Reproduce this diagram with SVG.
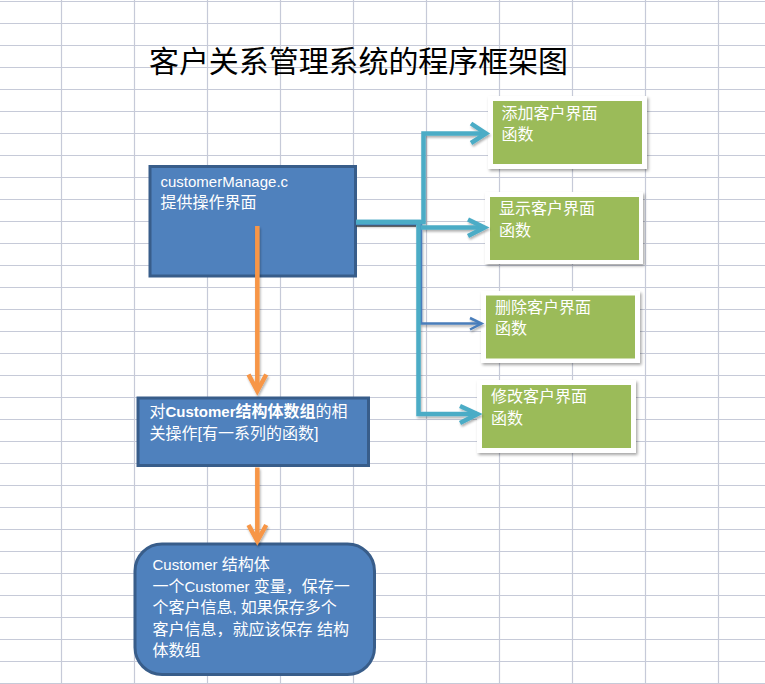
<svg xmlns="http://www.w3.org/2000/svg" width="765" height="684" viewBox="0 0 765 684">
<defs>
<style>
.grid line{stroke:#c6cad8;stroke-width:1.2}
.t{font-family:"Liberation Sans","Noto Sans CJK SC",sans-serif;font-size:16px;fill:#ffffff}
.lat{font-size:15px}
.blue{fill:#4f81bd;stroke:#385d8a;stroke-width:3}
.frame{fill:#ffffff}
.green{fill:#9bbb59}
.teal{fill:none;stroke:#4bacc6;stroke-width:4.5;stroke-linejoin:miter}
.orange{fill:none;stroke:#f79646;stroke-width:4.5}
.thin{fill:none;stroke:#4a7ebb;stroke-width:2.5}
</style>
<filter id="sh" x="-10%" y="-10%" width="130%" height="130%">
<feDropShadow dx="1.5" dy="2" stdDeviation="1.5" flood-color="#000" flood-opacity="0.35"/>
</filter>
<filter id="lsh" x="-20%" y="-20%" width="140%" height="140%">
<feDropShadow dx="1" dy="2" stdDeviation="1" flood-color="#000" flood-opacity="0.3"/>
</filter>
</defs>
<rect width="765" height="684" fill="#ffffff"/>
<g class="grid">
<line x1="61.5" y1="0" x2="61.5" y2="684"/><line x1="134.5" y1="0" x2="134.5" y2="684"/><line x1="207.5" y1="0" x2="207.5" y2="684"/><line x1="280.5" y1="0" x2="280.5" y2="684"/><line x1="353.5" y1="0" x2="353.5" y2="684"/><line x1="426.5" y1="0" x2="426.5" y2="684"/><line x1="499.5" y1="0" x2="499.5" y2="684"/><line x1="572.5" y1="0" x2="572.5" y2="684"/><line x1="645.5" y1="0" x2="645.5" y2="684"/><line x1="718.5" y1="0" x2="718.5" y2="684"/>
<line x1="0" y1="1.5" x2="765" y2="1.5"/><line x1="0" y1="23.5" x2="765" y2="23.5"/><line x1="0" y1="45.5" x2="765" y2="45.5"/><line x1="0" y1="67.5" x2="765" y2="67.5"/><line x1="0" y1="89.5" x2="765" y2="89.5"/><line x1="0" y1="111.5" x2="765" y2="111.5"/><line x1="0" y1="133.5" x2="765" y2="133.5"/><line x1="0" y1="155.5" x2="765" y2="155.5"/><line x1="0" y1="177.5" x2="765" y2="177.5"/><line x1="0" y1="199.5" x2="765" y2="199.5"/><line x1="0" y1="221.5" x2="765" y2="221.5"/><line x1="0" y1="243.5" x2="765" y2="243.5"/><line x1="0" y1="265.5" x2="765" y2="265.5"/><line x1="0" y1="287.5" x2="765" y2="287.5"/><line x1="0" y1="309.5" x2="765" y2="309.5"/><line x1="0" y1="331.5" x2="765" y2="331.5"/><line x1="0" y1="353.5" x2="765" y2="353.5"/><line x1="0" y1="375.5" x2="765" y2="375.5"/><line x1="0" y1="397.5" x2="765" y2="397.5"/><line x1="0" y1="419.5" x2="765" y2="419.5"/><line x1="0" y1="441.5" x2="765" y2="441.5"/><line x1="0" y1="463.5" x2="765" y2="463.5"/><line x1="0" y1="485.5" x2="765" y2="485.5"/><line x1="0" y1="507.5" x2="765" y2="507.5"/><line x1="0" y1="529.5" x2="765" y2="529.5"/><line x1="0" y1="551.5" x2="765" y2="551.5"/><line x1="0" y1="573.5" x2="765" y2="573.5"/><line x1="0" y1="595.5" x2="765" y2="595.5"/><line x1="0" y1="617.5" x2="765" y2="617.5"/><line x1="0" y1="639.5" x2="765" y2="639.5"/><line x1="0" y1="661.5" x2="765" y2="661.5"/><line x1="0" y1="683.5" x2="765" y2="683.5"/>
</g>
<text id="title" x="149" y="72" font-family="'Noto Sans CJK SC',sans-serif" font-size="30" fill="#000000" textLength="419" lengthAdjust="spacingAndGlyphs">客户关系管理系统的程序框架图</text>

<g id="node-manage">
<rect class="blue" x="150" y="166.5" width="205.5" height="109.5"/>
<text class="t" x="160.5" y="187"><tspan class="lat">customerManage.c</tspan></text>
<text class="t" x="160.5" y="208">提供操作界面</text>
</g>

<g id="node-add">
<rect class="frame" x="488" y="96" width="159" height="73" filter="url(#sh)"/>
<rect class="green" x="493" y="101" width="149" height="63"/>
<text class="t" x="501.5" y="118.5">添加客户界面</text>
<text class="t" x="501.5" y="139.5">函数</text>
</g>
<g id="node-show">
<rect class="frame" x="485" y="192" width="158" height="72" filter="url(#sh)"/>
<rect class="green" x="490" y="197" width="149" height="63"/>
<text class="t" x="499" y="214">显示客户界面</text>
<text class="t" x="499" y="235.5">函数</text>
</g>
<g id="node-delete">
<rect class="frame" x="481" y="291" width="159" height="72" filter="url(#sh)"/>
<rect class="green" x="486" y="295.5" width="149" height="63"/>
<text class="t" x="495" y="312.5">删除客户界面</text>
<text class="t" x="495" y="334">函数</text>
</g>
<g id="node-modify">
<rect class="frame" x="477" y="380" width="159" height="73" filter="url(#sh)"/>
<rect class="green" x="482" y="385" width="149" height="63"/>
<text class="t" x="491" y="402">修改客户界面</text>
<text class="t" x="491" y="424">函数</text>
</g>

<g id="node-array">
<rect class="blue" x="138" y="398" width="230.5" height="67.5" stroke-width="3.5"/>
<text class="t" x="149.5" y="417">对<tspan font-weight="bold" class="lat">Customer</tspan><tspan font-weight="bold">结构体数组</tspan>的相</text>
<text class="t" x="149.5" y="439">关操作[有一系列的函数]</text>
</g>

<g id="node-struct">
<rect class="blue" x="135" y="544" width="239.5" height="130.5" rx="27" ry="27"/>
<text class="t" x="152.5" y="570"><tspan class="lat">Customer </tspan>结构体</text>
<text class="t" x="152.5" y="591.5">一个<tspan class="lat">Customer </tspan>变量，保存一</text>
<text class="t" x="152.5" y="613">个客户信息<tspan class="lat">, </tspan>如果保存多个</text>
<text class="t" x="152.5" y="634.5">客户信息，就应该保存 结构</text>
<text class="t" x="152.5" y="655.5">体数组</text>
</g>

<g id="connectors">
<line x1="356" y1="225.5" x2="416" y2="225.5" stroke="#3c3c3c" stroke-width="2.5" opacity="0.85"/>
<g filter="url(#lsh)">
<path class="thin" d="M356,224 H421 V323.5 H481"/>
<path class="thin" d="M470,318 L481.5,323.5 L470,329.5"/>
<path class="teal" d="M356,222 H418.5 V414 H477"/>
<path class="teal" d="M460,406 L477.5,414 L460,423"/>
<path class="teal" d="M356,222 H423.5 V133.5 H485"/>
<path class="teal" d="M471,123.5 L486,133.5 L471,143"/>
<path class="teal" d="M421,227.5 H484"/>
<path class="teal" d="M468,219.5 L484.5,227.5 L468,236"/>
<path class="orange" d="M257.3,226 V390"/>
<path class="orange" d="M248.5,374.5 L257.3,391 L266.2,374.5"/>
<path class="orange" d="M257.3,467.5 V540"/>
<path class="orange" d="M248.5,525 L257.3,541 L266.2,525"/>
</g>
</g>
</svg>
